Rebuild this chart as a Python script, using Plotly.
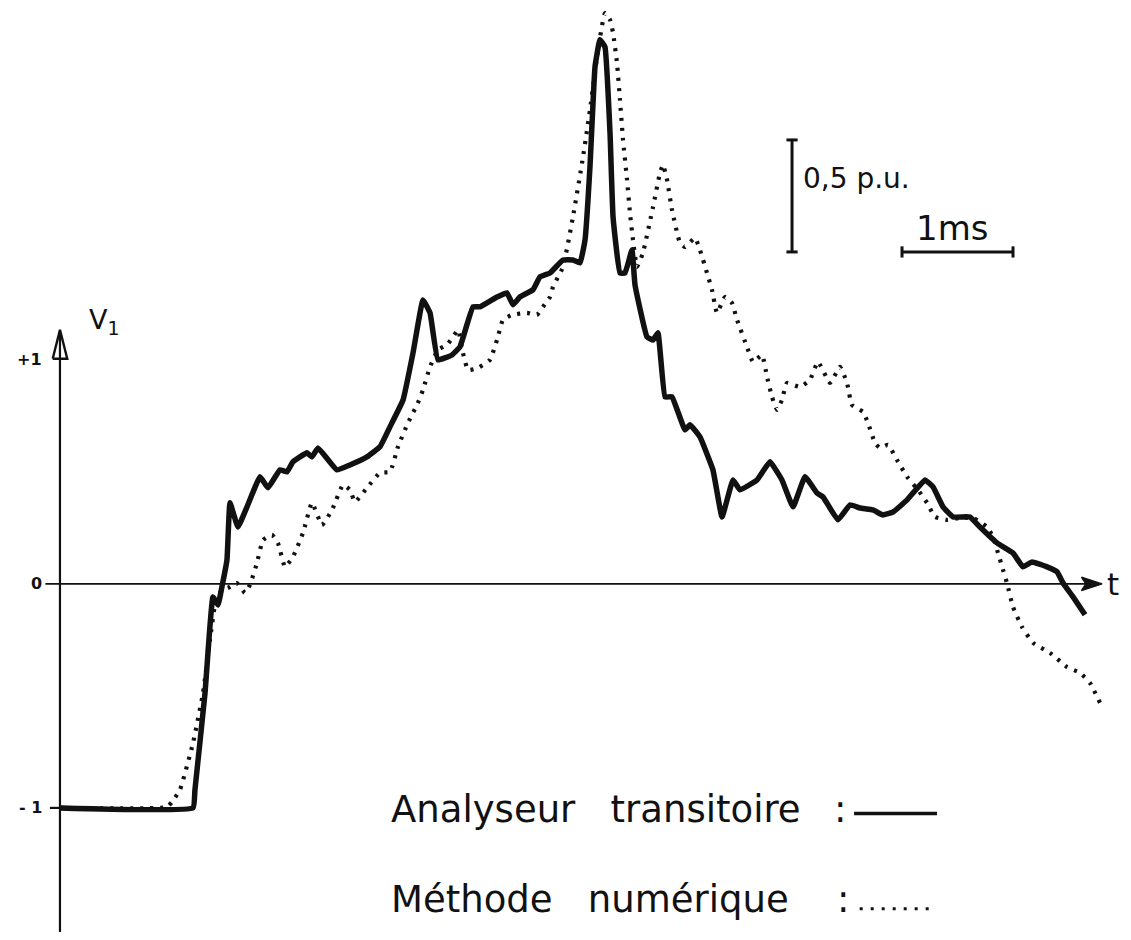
import plotly.graph_objects as go

# Time in ms, voltage V1 in p.u.
t_analyseur = [0, 1.188, 1.205, 1.295, 1.366, 1.411, 1.446, 1.491, 1.518, 1.589, 1.670, 1.786, 1.857,
               1.964, 2.027, 2.080, 2.205, 2.250, 2.304, 2.473, 2.589, 2.741, 2.857, 2.946, 3.063,
               3.152, 3.241, 3.304, 3.375, 3.500, 3.571, 3.688, 3.750, 3.902, 3.991, 4.045, 4.107,
               4.223, 4.286, 4.375, 4.491, 4.580, 4.643, 4.688, 4.732, 4.777, 4.821, 4.866, 4.911,
               4.938, 5.000, 5.045, 5.107, 5.134, 5.241, 5.295, 5.339, 5.402, 5.464, 5.580, 5.625,
               5.714, 5.830, 5.911, 6.009, 6.071, 6.223, 6.339, 6.446, 6.545, 6.652, 6.759, 6.813,
               6.946, 7.054, 7.143, 7.259, 7.348, 7.438, 7.563, 7.723, 7.795, 7.884, 7.973, 8.125,
               8.214, 8.366, 8.509, 8.598, 8.679, 8.813, 8.902, 8.955, 9.045, 9.152]
v_analyseur = [-1, -1, -0.920, -0.487, -0.058, -0.094, -0.013, 0.107, 0.362, 0.254, 0.344, 0.478, 0.429,
               0.509, 0.500, 0.545, 0.585, 0.567, 0.607, 0.509, 0.531, 0.567, 0.612, 0.701, 0.821,
               1.031, 1.268, 1.210, 1.000, 1.022, 1.058, 1.237, 1.237, 1.281, 1.299, 1.246, 1.281,
               1.313, 1.371, 1.388, 1.446, 1.446, 1.433, 1.536, 1.862, 2.308, 2.429, 2.397, 2.013,
               1.638, 1.388, 1.388, 1.491, 1.335, 1.103, 1.089, 1.121, 0.835, 0.835, 0.688, 0.710,
               0.656, 0.509, 0.299, 0.464, 0.420, 0.464, 0.545, 0.464, 0.344, 0.478, 0.406, 0.388,
               0.286, 0.353, 0.339, 0.330, 0.308, 0.321, 0.375, 0.464, 0.433, 0.344, 0.299, 0.299,
               0.254, 0.183, 0.138, 0.076, 0.098, 0.076, 0.054, 0.004, -0.058, -0.138]

t_numerique = [0, 0.955, 1.000, 1.071, 1.188, 1.277, 1.339, 1.393, 1.446, 1.500, 1.580, 1.652, 1.696,
               1.759, 1.813, 1.893, 1.946, 2.009, 2.080, 2.170, 2.250, 2.339, 2.429, 2.527, 2.589,
               2.634, 2.741, 2.857, 2.946, 3.018, 3.107, 3.196, 3.241, 3.304, 3.375, 3.455, 3.509,
               3.554, 3.598, 3.643, 3.732, 3.839, 3.902, 3.955, 4.036, 4.170, 4.259, 4.313, 4.375,
               4.402, 4.491, 4.580, 4.670, 4.732, 4.804, 4.866, 4.911, 4.938, 4.973, 5.000, 5.027,
               5.063, 5.089, 5.116, 5.152, 5.205, 5.295, 5.357, 5.384, 5.420, 5.464, 5.536, 5.580,
               5.670, 5.714, 5.777, 5.821, 5.866, 5.938, 6.000, 6.045, 6.134, 6.188, 6.268, 6.313,
               6.357, 6.402, 6.446, 6.491, 6.607, 6.696, 6.768, 6.875, 6.964, 7.027, 7.071, 7.170,
               7.214, 7.277, 7.321, 7.393, 7.473, 7.563, 7.661, 7.741, 7.813, 7.920, 8.036, 8.152,
               8.277, 8.330, 8.375, 8.420, 8.455, 8.509, 8.589, 8.688, 8.839, 8.991, 9.107, 9.196,
               9.286]
v_numerique = [-1, -0.996, -0.973, -0.920, -0.710, -0.487, -0.250, -0.071, -0.027, -0.018, 0.004, -0.040,
               -0.004, 0.094, 0.196, 0.219, 0.183, 0.076, 0.121, 0.228, 0.362, 0.263, 0.330, 0.442,
               0.420, 0.366, 0.429, 0.496, 0.500, 0.612, 0.719, 0.808, 0.866, 0.969, 1.045, 1.067,
               1.103, 1.134, 1.031, 0.955, 0.964, 1.000, 1.089, 1.179, 1.201, 1.210, 1.201, 1.237,
               1.281, 1.326, 1.415, 1.638, 1.906, 2.116, 2.384, 2.549, 2.518, 2.460, 2.326, 2.161,
               1.982, 1.804, 1.656, 1.536, 1.415, 1.478, 1.683, 1.835, 1.871, 1.804, 1.670, 1.522,
               1.504, 1.545, 1.491, 1.388, 1.313, 1.210, 1.281, 1.254, 1.179, 1.058, 0.991, 1.022,
               0.924, 0.835, 0.777, 0.821, 0.897, 0.879, 0.911, 0.991, 0.897, 0.969, 0.897, 0.799,
               0.768, 0.719, 0.629, 0.607, 0.621, 0.554, 0.478, 0.420, 0.362, 0.299, 0.286, 0.295,
               0.295, 0.254, 0.210, 0.138, 0.063, 0.004, -0.103, -0.192, -0.263, -0.308, -0.371,
               -0.397, -0.442, -0.531]

y_tick_vals = [1, 0, -1]
y_tick_text = ["+1", "0", "- 1"]
legend_names = ["Analyseur   transitoire", "Méthode   numérique"]
scale_v_text = "0,5 p.u."
scale_t_text = "1ms"

FONT = "DejaVu Sans"
INK = "#111111"

fig = go.Figure()


def deco(x, y, width=2.2, dash=None, fill=None):
    fig.add_trace(go.Scatter(x=x, y=y, mode="lines", fill=fill, fillcolor=INK,
                             line=dict(color=INK, width=width, dash=dash),
                             hoverinfo="skip", showlegend=False))


# axes
deco([0, 0], [-1.56, 1.12])
deco([-0.13, 9.20], [0, 0], width=1.6)
deco([-0.09, 0], [-1, -1])
# arrowheads (y: open narrow triangle, x: filled)
deco([-0.065, 0, 0.065, -0.065], [1.005, 1.134, 1.005, 1.005], width=2.4)
deco([9.12, 9.304, 9.12, 9.16, 9.12], [0.03, 0.0, -0.03, 0.0, 0.03], width=1.5, fill="toself")

# curves
fig.add_trace(go.Scatter(x=t_numerique, y=v_numerique, mode="lines", name="Méthode numérique",
                         line=dict(color=INK, width=4.2, dash="3px,7px", shape="spline", smoothing=0.4),
                         showlegend=False))
fig.add_trace(go.Scatter(x=t_analyseur, y=v_analyseur, mode="lines", name="Analyseur transitoire",
                         line=dict(color=INK, width=5.5, shape="spline", smoothing=0.3),
                         showlegend=False))

# scale bars
fig.add_trace(go.Scatter(x=[6.536, 6.536], y=[1.482, 1.982], mode="lines+markers",
                         marker=dict(symbol="line-ew", size=8, line=dict(width=3, color=INK)),
                         line=dict(color=INK, width=3), hoverinfo="skip", showlegend=False))
fig.add_trace(go.Scatter(x=[7.518, 8.509], y=[1.482, 1.482], mode="lines+markers",
                         marker=dict(symbol="line-ns", size=8, line=dict(width=3, color=INK)),
                         line=dict(color=INK, width=3), hoverinfo="skip", showlegend=False))

# legend samples
deco([7.09, 7.83], [-1.025, -1.025], width=3.5)
deco([7.14, 7.80], [-1.45, -1.45], width=3, dash="3px,8px")

ann = []
for v, s in zip(y_tick_vals, y_tick_text):
    ann.append(dict(x=-0.14, y=v, xref="x", yref="y", text="<b>%s</b>" % s, showarrow=False,
                    xanchor="right", yanchor="middle", font=dict(family=FONT, size=16, color=INK)))
ann.append(dict(x=0.24, y=1.17, xref="x", yref="y", text="V<sub>1</sub>", showarrow=False,
                xanchor="left", yanchor="middle", font=dict(family=FONT, size=27, color=INK)))
ann.append(dict(x=9.40, y=0.0, xref="x", yref="y", text="t", showarrow=False,
                xanchor="center", yanchor="middle", font=dict(family=FONT, size=31, color=INK)))
ann.append(dict(x=6.62, y=1.81, xref="x", yref="y", text=scale_v_text, showarrow=False,
                xanchor="left", yanchor="middle", font=dict(family=FONT, size=28, color=INK)))
ann.append(dict(x=7.96, y=1.59, xref="x", yref="y", text=scale_t_text, showarrow=False,
                xanchor="center", yanchor="middle", font=dict(family=FONT, size=34, color=INK)))
ann.append(dict(x=2.94, y=-1.009, xref="x", yref="y", text=legend_names[0], showarrow=False,
                xanchor="left", yanchor="middle", font=dict(family=FONT, size=37, color=INK)))
ann.append(dict(x=2.94, y=-1.41, xref="x", yref="y", text=legend_names[1], showarrow=False,
                xanchor="left", yanchor="middle", font=dict(family=FONT, size=37, color=INK)))
ann.append(dict(x=6.96, y=-1.009, xref="x", yref="y", text=":", showarrow=False,
                xanchor="center", yanchor="middle", font=dict(family=FONT, size=37, color=INK)))
ann.append(dict(x=6.99, y=-1.41, xref="x", yref="y", text=":", showarrow=False,
                xanchor="center", yanchor="middle", font=dict(family=FONT, size=37, color=INK)))

fig.update_layout(
    width=1115, height=924,
    margin=dict(l=0, r=0, t=0, b=0),
    paper_bgcolor="white", plot_bgcolor="white",
    xaxis=dict(range=[-0.464, 9.491], visible=False, fixedrange=True),
    yaxis=dict(range=[-1.554, 2.571], visible=False, fixedrange=True),
    annotations=ann,
    showlegend=False,
)

fig.write_html("out.html")
